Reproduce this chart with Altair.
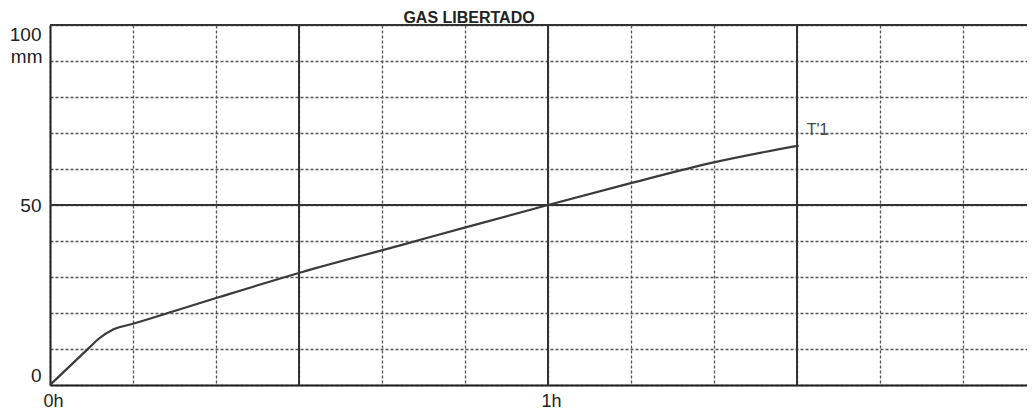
import altair as alt
import pandas as pd

# ---- data ----
minutes = [0, 4.7, 5.8, 7.6, 10.0, 14.8, 20.5, 30.4, 42.2, 50.4, 60.0, 70.2, 80.1, 90.2]
mm = [0, 10.3, 12.7, 15.4, 17.0, 20.4, 24.5, 31.4, 38.8, 44.0, 50.0, 56.2, 61.9, 66.5]
x_grid = [0, 10, 20, 30, 40, 50, 60, 70, 80, 90, 100, 110]
y_grid = [0, 10, 20, 30, 40, 50, 60, 70, 80, 90, 100]
x_major = [30, 60, 90]
y_major = [50, 100]
x_tick_labels = {0: "0h", 60: "1h"}
y_tick_labels = [0, 50, 100]
curve_label = "T'1"
title_text = "GAS LIBERTADO"

W = 977
H = 360
TOP = 17
X_MAX = W / 498 * 60  # 498 px per hour

df = pd.DataFrame({"t": minutes, "mm": mm})
df_label = pd.DataFrame({"t": [minutes[-1]], "mm": [mm[-1]], "label": [curve_label]})
df_xm = pd.DataFrame({"t": x_major})
df_ym = pd.DataFrame({"mm": y_major})
df_title = pd.DataFrame({"label": [title_text]})

FONT = "Liberation Sans"
xs = alt.Scale(domain=[0, X_MAX], nice=False, zero=True)
ys = alt.Scale(domain=[0, 100], nice=False)

x_expr = " : ".join(
    [f"datum.value == {k} ? '{v}'" for k, v in x_tick_labels.items()]
) + " : ''"
y_expr = " || ".join([f"datum.value == {v}" for v in y_tick_labels])
y_expr = f"({y_expr}) ? datum.label : ''"

x_axis = alt.Axis(
    values=x_grid, labelExpr=x_expr, grid=True, gridDash=[3, 2], gridColor="#555",
    gridWidth=1.3, ticks=False, domain=True, domainColor="#222", domainWidth=2,
    labelFontSize=18, labelFont=FONT, labelColor="#222", labelPadding=7, labelOffset=3,
    labelFlush=False, labelOverlap=False, title=None,
)
y_axis = alt.Axis(
    values=y_grid, labelExpr=y_expr, grid=True, gridDash=[3, 2], gridColor="#555",
    gridWidth=1.3, ticks=False, domain=True, domainColor="#222", domainWidth=2,
    labelFontSize=19, labelFont=FONT, labelColor="#222", labelPadding=9,
    labelFlush=True, labelOverlap=False,
    title="mm", titleAngle=0, titleAlign="right", titleBaseline="middle",
    titleX=-8, titleY=31, titleFontSize=19, titleFontWeight="normal",
    titleFont=FONT, titleColor="#222",
)

X = alt.X("t:Q", scale=xs, axis=x_axis)
Y = alt.Y("mm:Q", scale=ys, axis=y_axis)

curve = alt.Chart(df).mark_line(color="#3a3a3a", strokeWidth=2.2, interpolate="monotone").encode(
    x=X, y=Y,
)

vrules = alt.Chart(df_xm).mark_rule(color="#333", strokeWidth=2).encode(x=X)
hrules = alt.Chart(df_ym).mark_rule(color="#333", strokeWidth=2).encode(y=Y)

label = alt.Chart(df_label).mark_text(
    align="left", baseline="alphabetic", dx=8, dy=-11, fontSize=16, font=FONT, color="#444"
).encode(x=X, y=Y, text="label:N")

title = alt.Chart(df_title).mark_text(
    align="center", baseline="alphabetic", fontSize=16, fontWeight="bold", font=FONT, color="#222"
).encode(
    x=alt.value(419),
    y=alt.value(-2),
    text="label:N",
)

chart = alt.layer(vrules, hrules, curve, label, title).properties(
    width=W,
    height=H,
    autosize=alt.AutoSizeParams(type="none"),
    padding={"left": 42, "top": TOP, "right": 0, "bottom": 26},
).configure_view(stroke=None).configure(background="white")

chart.save("out.html", embed_options={"renderer": "svg", "actions": False})
